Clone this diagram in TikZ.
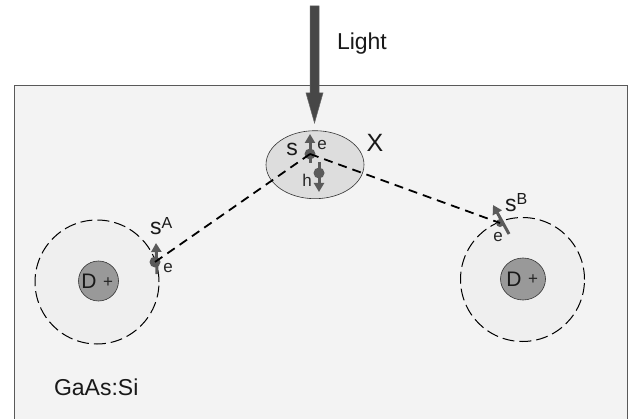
\documentclass[tikz,border=0pt]{standalone}
\usepackage{fontspec}
\setmainfont{Liberation Sans}
\usetikzlibrary{arrows.meta,shapes.geometric}
\definecolor{bgc}{HTML}{F3F3F3}
\definecolor{ringc}{HTML}{EFEFEF}
\definecolor{corec}{HTML}{999999}
\definecolor{dotc}{HTML}{5A5A5A}
\definecolor{ellc}{HTML}{DDDDDD}
\tikzset{
 every node/.style={inner sep=0pt,outer sep=0pt},
 lbl/.style={font=\fontsize{23}{23}\selectfont,text=black!90},
 dlbl/.style={font=\fontsize{21}{21}\selectfont,text=black!90},
 small/.style={font=\fontsize{17}{17}\selectfont,text=black!85},
 ring/.style={circle,draw=black,line width=1pt,dash pattern=on 12pt off 5pt,fill=ringc,minimum size=#1},
 core/.style={circle,draw=black!80,line width=0.6pt,fill=corec,minimum size=#1},
 dot/.style={circle,fill=dotc,minimum size=11pt},
 spin/.style={draw=dotc,line width=3pt,-{Triangle[length=9pt,width=10pt]}},
 link/.style={draw=black,line width=1.8pt,dash pattern=on 9pt off 6pt},
}
\newcommand{\sbig}[2]{{\fontsize{23}{23}\selectfont s}\raisebox{#1}{\fontsize{16}{16}\selectfont #2}}
\begin{document}
\begin{tikzpicture}[x=1pt,y=-1pt]
\useasboundingbox (0,0) rectangle (636,419);
\fill[white] (0,0) rectangle (636,419);
\node[draw=black!65,fill=bgc,line width=0.8pt,minimum width=613pt,minimum height=340pt,anchor=north west] (base) at (14,85) {};
% Light arrow
\path[draw=black!60,fill=black!72,line width=0.5pt] (310,6) -- (319,6) -- (319,93) -- (323,93) -- (314.5,123) -- (306,93) -- (310,93) -- cycle;
\node[lbl,anchor=west] (light) at (337,44) {Light};
% donors
\node[ring=124pt] (ringa) at (97,282) {};
\node[ring=124pt] (ringb) at (522.5,279.5) {};
\node[core=40pt] (corea) at (98.5,281) {};
\node[ellipse,draw=black!80,line width=0.6pt,fill=corec,minimum width=45pt,minimum height=42pt] (coreb) at (523,279) {};
\node[dlbl] (da) at (89,281) {D};
\node[dlbl] (db) at (514,279) {D};
\node[small] (pa) at (108,283) {+};
\node[small] (pb) at (533,280) {+};
% exciton
\node[ellipse,draw=black!80,fill=ellc,line width=0.6pt,minimum width=98pt,minimum height=68pt] (x) at (315,164.7) {};
% sites
\node[dot] (c) at (310,154) {};
\node[dot] (h) at (319,173) {};
\node[dot] (a) at (155,262) {};
\node[dot,minimum size=8pt] (b) at (500,223) {};
% spins
\coordinate (c1) at (310,163);\coordinate (c2) at (310,134);
\coordinate (h1) at (319,162);\coordinate (h2) at (319,192);
\coordinate (a1) at (157,274);\coordinate (a2) at (156,243);
\coordinate (b1) at (509,234);\coordinate (b2) at (493,205);
\draw[spin] (c1) -- (c2);
\draw[spin] (h1) -- (h2);
\draw[spin] (a1) -- (a2);
\draw[spin] (b1) -- (b2);
\draw[link] (a.center) -- (c.center);
\draw[link] (c.center) -- (b.center);
% labels
\node[font=\fontsize{23}{23}\selectfont,text=black!90] (s) at (292,149) {s};
\node[small] (e) at (322,145) {e};
\node[small] (hl) at (307,180) {h};
\node[font=\fontsize{25}{25}\selectfont,text=black!90] (xl) at (375,143) {X};
\node[anchor=base west,text=black!90] (sa) at (150,235) {\sbig{6pt}{A}};
\node[small] (ea) at (168,268) {e};
\node[anchor=base west,text=black!90] (sb) at (505,212) {\sbig{7pt}{B}};
\node[small] (eb) at (498,237) {e};
\node[lbl,anchor=west] (gaas) at (54,387) {GaAs:Si};
\end{tikzpicture}
\end{document}
